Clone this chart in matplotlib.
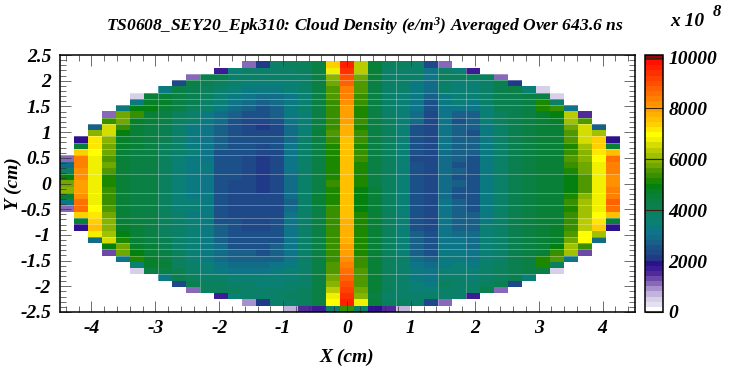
import numpy as np
import matplotlib
matplotlib.use('Agg')
import matplotlib.pyplot as plt
from matplotlib.colors import ListedColormap, BoundaryNorm
from matplotlib.ticker import MultipleLocator

plt.rcParams['font.family'] = ['Liberation Serif', 'DejaVu Serif']
plt.rcParams['font.weight'] = 'bold'
plt.rcParams['font.style'] = 'italic'
plt.rcParams['mathtext.fontset'] = 'custom'
plt.rcParams['mathtext.rm'] = 'Liberation Serif:italic:bold'
plt.rcParams['mathtext.it'] = 'Liberation Serif:italic:bold'

title = 'TS0608_SEY20_Epk310: Cloud Density (e/m$^{\\mathrm{3}}$) Averaged Over 643.6 ns'
x_label = 'X (cm)'
y_label = 'Y (cm)'
x_ticks = [-4, -3, -2, -1, 0, 1, 2, 3, 4]
y_ticks = [-2.5, -2, -1.5, -1, -0.5, 0, 0.5, 1, 1.5, 2, 2.5]
y_tick_labels = ['-2.5', '-2', '-1.5', '-1', '-0.5', '0', '0.5', '1', '1.5', '2', '2.5']
bar_ticks = [0, 2000, 4000, 6000, 8000, 10000]
bar_max = 10100

# 41 x 41 bins over the plot, top row and last column are empty
x_edges = np.linspace(-4.5, 4.5, 42)
y_edges = np.linspace(-2.5, 2.5, 42)

# density in hundreds, rows go top to bottom, left half
left_half = [
    [0, 0, 0, 0, 0, 0, 0, 0, 0, 0, 0, 0, 0, 11, 22, 38, 39, 39, 44, 73],
    [0, 0, 0, 0, 0, 0, 0, 0, 0, 0, 0, 18, 36, 37, 37, 38, 38, 39, 44, 68],
    [0, 0, 0, 0, 0, 0, 0, 0, 0, 11, 41, 41, 38, 37, 37, 37, 37, 38, 43, 60],
    [0, 0, 0, 0, 0, 0, 0, 0, 23, 43, 42, 40, 37, 36, 35, 35, 36, 38, 43, 57],
    [0, 0, 0, 0, 0, 0, 0, 33, 44, 42, 40, 37, 35, 33, 33, 33, 35, 37, 43, 56],
    [0, 0, 0, 0, 0, 5, 45, 45, 44, 41, 39, 36, 33, 31, 30, 30, 32, 35, 43, 55],
    [0, 0, 0, 0, 0, 34, 48, 47, 44, 41, 38, 35, 32, 29, 28, 29, 33, 36, 43, 53],
    [0, 0, 0, 0, 33, 49, 50, 45, 43, 39, 37, 33, 29, 27, 26, 28, 33, 37, 44, 53],
    [0, 0, 0, 12, 57, 54, 46, 43, 40, 37, 34, 30, 27, 25, 25, 27, 33, 36, 44, 53],
    [0, 0, 0, 53, 58, 47, 46, 44, 40, 37, 34, 29, 26, 24, 24, 26, 31, 36, 44, 54],
    [0, 0, 28, 65, 53, 46, 44, 41, 37, 34, 32, 28, 25, 24, 22, 24, 29, 36, 44, 53],
    [0, 0, 59, 65, 50, 45, 44, 41, 37, 34, 32, 27, 25, 24, 24, 24, 29, 36, 45, 55],
    [0, 19, 72, 59, 47, 46, 44, 41, 37, 34, 32, 27, 26, 25, 25, 25, 30, 37, 44, 54],
    [0, 45, 72, 58, 47, 45, 44, 40, 37, 34, 32, 27, 26, 25, 24, 25, 31, 37, 44, 52],
    [0, 74, 70, 57, 46, 44, 44, 40, 37, 35, 31, 26, 26, 25, 23, 24, 31, 38, 44, 52],
    [11, 83, 68, 56, 46, 44, 43, 40, 36, 34, 32, 26, 26, 24, 22, 24, 31, 38, 44, 52],
    [30, 83, 68, 57, 45, 44, 43, 40, 36, 34, 33, 26, 26, 24, 22, 23, 31, 38, 44, 52],
    [37, 82, 68, 55, 45, 44, 43, 40, 36, 34, 33, 26, 25, 24, 22, 23, 31, 38, 44, 51],
    [50, 81, 68, 52, 45, 44, 43, 40, 36, 34, 32, 25, 25, 24, 22, 23, 30, 38, 44, 51],
    [58, 80, 67, 52, 45, 44, 43, 40, 36, 34, 32, 25, 24, 23, 22, 23, 29, 37, 44, 53],
    [59, 80, 68, 53, 45, 44, 43, 40, 36, 34, 32, 25, 24, 23, 22, 23, 29, 37, 44, 52],
    [46, 82, 68, 54, 45, 44, 43, 40, 36, 34, 33, 25, 24, 23, 23, 23, 29, 37, 45, 51],
    [33, 85, 68, 53, 45, 44, 43, 40, 36, 35, 33, 25, 24, 23, 23, 23, 28, 38, 45, 52],
    [12, 85, 69, 55, 45, 44, 43, 40, 36, 35, 33, 25, 24, 23, 23, 24, 30, 38, 44, 53],
    [0, 74, 71, 57, 45, 44, 43, 40, 37, 34, 33, 26, 24, 23, 23, 24, 31, 38, 44, 53],
    [0, 46, 73, 59, 46, 44, 43, 40, 37, 35, 33, 26, 25, 24, 23, 25, 31, 38, 44, 53],
    [0, 19, 76, 60, 47, 45, 44, 40, 37, 35, 33, 27, 25, 24, 24, 25, 31, 38, 44, 53],
    [0, 0, 68, 61, 49, 45, 44, 40, 37, 35, 33, 28, 25, 25, 25, 26, 31, 38, 44, 54],
    [0, 0, 29, 65, 52, 46, 44, 41, 38, 35, 33, 28, 26, 25, 25, 26, 31, 37, 44, 54],
    [0, 0, 0, 50, 57, 47, 45, 42, 38, 35, 33, 29, 26, 26, 26, 27, 31, 37, 44, 53],
    [0, 0, 0, 13, 58, 50, 46, 43, 39, 36, 33, 29, 27, 27, 26, 27, 31, 37, 44, 53],
    [0, 0, 0, 0, 32, 51, 48, 43, 39, 36, 34, 30, 28, 28, 28, 28, 32, 37, 44, 54],
    [0, 0, 0, 0, 0, 36, 47, 45, 40, 37, 35, 32, 30, 30, 29, 31, 33, 37, 44, 55],
    [0, 0, 0, 0, 0, 5, 43, 43, 41, 38, 36, 34, 32, 32, 32, 33, 35, 37, 43, 56],
    [0, 0, 0, 0, 0, 0, 0, 34, 42, 40, 38, 37, 35, 35, 35, 35, 36, 38, 43, 58],
    [0, 0, 0, 0, 0, 0, 0, 0, 23, 42, 40, 39, 37, 37, 36, 36, 37, 38, 43, 60],
    [0, 0, 0, 0, 0, 0, 0, 0, 0, 11, 40, 40, 39, 38, 38, 38, 38, 39, 43, 63],
    [0, 0, 0, 0, 0, 0, 0, 0, 0, 0, 0, 17, 36, 37, 38, 38, 39, 40, 43, 68],
    [0, 0, 0, 0, 0, 0, 0, 0, 0, 0, 0, 0, 0, 10, 21, 37, 38, 39, 44, 70],
    [0, 0, 0, 0, 0, 0, 0, 0, 0, 0, 0, 0, 0, 0, 0, 0, 7, 15, 17, 37],
]

# right half, same rows
right_half = [
    [96, 64, 46, 40, 40, 38, 23, 11, 0, 0, 0, 0, 0, 0, 0, 0, 0, 0, 0, 0],
    [93, 63, 45, 38, 38, 37, 32, 38, 36, 17, 0, 0, 0, 0, 0, 0, 0, 0, 0, 0],
    [90, 58, 45, 38, 38, 37, 32, 40, 39, 39, 39, 11, 0, 0, 0, 0, 0, 0, 0, 0],
    [87, 56, 44, 38, 38, 34, 30, 38, 36, 36, 38, 41, 22, 0, 0, 0, 0, 0, 0, 0],
    [84, 55, 44, 38, 37, 33, 30, 37, 36, 36, 38, 41, 43, 36, 6, 0, 0, 0, 0, 0],
    [83, 54, 44, 38, 36, 33, 27, 34, 35, 35, 38, 41, 42, 43, 44, 5, 0, 0, 0, 0],
    [81, 53, 44, 38, 35, 32, 26, 33, 35, 34, 37, 41, 42, 43, 52, 38, 0, 0, 0, 0],
    [80, 52, 44, 38, 35, 32, 25, 32, 31, 31, 36, 41, 42, 44, 51, 53, 32, 0, 0, 0],
    [80, 52, 44, 38, 35, 30, 24, 32, 27, 28, 36, 40, 42, 43, 47, 50, 63, 15, 0, 0],
    [79, 53, 44, 39, 35, 30, 24, 31, 26, 27, 35, 39, 41, 44, 45, 48, 62, 56, 0, 0],
    [78, 52, 44, 39, 35, 26, 23, 31, 27, 27, 34, 38, 41, 44, 45, 46, 57, 66, 28, 0],
    [77, 54, 44, 39, 35, 25, 24, 31, 27, 26, 34, 38, 41, 44, 45, 46, 56, 65, 61, 0],
    [76, 53, 44, 39, 35, 25, 24, 31, 28, 27, 34, 38, 41, 44, 45, 45, 55, 65, 74, 19],
    [76, 51, 44, 39, 35, 25, 24, 31, 27, 27, 33, 38, 41, 44, 45, 45, 52, 62, 73, 45],
    [76, 54, 44, 39, 35, 25, 24, 30, 28, 27, 33, 38, 41, 44, 45, 45, 54, 60, 71, 76],
    [76, 54, 43, 39, 35, 24, 23, 30, 27, 26, 33, 37, 41, 44, 45, 45, 56, 60, 69, 85],
    [76, 52, 44, 39, 35, 25, 23, 30, 26, 26, 33, 37, 41, 44, 46, 45, 53, 58, 68, 84],
    [76, 52, 44, 39, 35, 26, 23, 30, 27, 25, 33, 37, 41, 44, 46, 45, 52, 58, 68, 83],
    [75, 52, 44, 39, 35, 25, 23, 30, 26, 25, 33, 37, 41, 44, 46, 45, 50, 56, 67, 82],
    [76, 52, 44, 39, 35, 25, 23, 30, 27, 26, 33, 37, 41, 44, 46, 45, 50, 56, 67, 82],
    [76, 50, 45, 39, 35, 25, 23, 30, 26, 26, 33, 37, 41, 44, 46, 45, 50, 56, 67, 83],
    [76, 50, 45, 39, 35, 25, 23, 30, 26, 25, 33, 37, 41, 44, 46, 45, 52, 60, 68, 83],
    [76, 50, 45, 39, 35, 25, 23, 31, 27, 26, 34, 38, 41, 44, 46, 45, 53, 62, 68, 87],
    [76, 50, 45, 39, 35, 25, 24, 31, 27, 26, 34, 38, 41, 44, 46, 45, 52, 62, 67, 86],
    [76, 51, 45, 39, 35, 25, 24, 31, 28, 27, 34, 38, 41, 44, 46, 46, 53, 62, 70, 76],
    [77, 51, 45, 39, 36, 26, 24, 31, 28, 27, 34, 38, 41, 44, 46, 46, 54, 63, 72, 45],
    [77, 51, 45, 39, 36, 26, 24, 32, 28, 27, 35, 38, 41, 44, 46, 47, 54, 64, 74, 19],
    [78, 52, 45, 39, 36, 27, 25, 32, 30, 29, 35, 38, 41, 44, 46, 47, 56, 69, 62, 0],
    [78, 52, 45, 39, 36, 27, 25, 32, 31, 30, 35, 38, 41, 44, 46, 47, 57, 69, 29, 0],
    [79, 52, 45, 39, 36, 28, 26, 32, 32, 30, 35, 38, 41, 44, 45, 50, 62, 54, 0, 0],
    [80, 52, 45, 39, 36, 28, 26, 33, 33, 32, 35, 38, 41, 44, 45, 53, 62, 14, 0, 0],
    [81, 53, 45, 39, 37, 30, 27, 33, 34, 32, 36, 38, 41, 44, 52, 55, 31, 0, 0, 0],
    [83, 54, 45, 39, 38, 32, 30, 34, 35, 34, 37, 39, 41, 44, 52, 39, 0, 0, 0, 0],
    [85, 55, 45, 39, 38, 33, 31, 36, 36, 36, 37, 39, 41, 43, 44, 5, 0, 0, 0, 0],
    [87, 56, 45, 39, 38, 34, 32, 37, 37, 36, 38, 39, 42, 35, 0, 0, 0, 0, 0, 0],
    [89, 56, 45, 39, 38, 35, 34, 39, 38, 38, 39, 42, 23, 0, 0, 0, 0, 0, 0, 0],
    [91, 57, 45, 39, 38, 36, 35, 38, 38, 38, 41, 12, 0, 0, 0, 0, 0, 0, 0, 0],
    [93, 60, 44, 38, 38, 37, 37, 38, 38, 17, 0, 0, 0, 0, 0, 0, 0, 0, 0, 0],
    [96, 68, 46, 39, 39, 38, 23, 11, 0, 0, 0, 0, 0, 0, 0, 0, 0, 0, 0, 0],
    [53, 37, 19, 15, 8, 0, 0, 0, 0, 0, 0, 0, 0, 0, 0, 0, 0, 0, 0, 0],
]

# palette of the colour bar, 50 levels from the bottom up
palette = ['#ffffff', '#e4e0f0', '#d8d0e8', '#c0b4dc', '#a890cc', '#8868b8', '#6c48a8',
           '#4f2a98', '#3c1c94', '#2c108c', '#203a88', '#1e4888', '#1c5088', '#186088',
           '#126c88', '#0e7488', '#0a7a80', '#0a7f74', '#0a8068', '#0a805c', '#0a8050',
           '#0a8044', '#088038', '#06802a', '#048010', '#1c8800', '#389000', '#509800',
           '#70a800', '#88b400', '#a0c000', '#b8cc00', '#d4dc00', '#f0f000', '#ffff00',
           '#ffe800', '#ffd000', '#ffc000', '#ffb000', '#ffa000', '#ff9000', '#ff8000',
           '#ff7000', '#ff6000', '#ff5000', '#ff4000', '#ff3000', '#ff2000', '#ff1000',
           '#a00010']

# bin boundaries that show as pale seams in the original image
seam_rows = [2, 3, 5, 6, 7, 9, 10, 12, 13, 14, 15, 18, 21, 23, 25, 26, 28, 29, 30, 31, 34]
seam_cols = [7, 10, 24, 27, 29]

density = np.hstack([np.array(left_half), np.array(right_half)]) * 100.0
filled = density > 0

# add the empty last column and empty top row, flip so row 0 is at the bottom
grid = np.hstack([density, np.zeros((density.shape[0], 1))])
grid = np.vstack([np.zeros((1, grid.shape[1])), grid])[::-1]

W, H = 731, 380
fig = plt.figure(figsize=(W / 100, H / 100), dpi=100, facecolor='white')
ax = fig.add_axes([59.5 / W, (H - 312) / H, 575 / W, 257 / H])
cax = fig.add_axes([645 / W, (H - 312) / H, 18 / W, 257 / H])

levels = np.linspace(0, bar_max, len(palette) + 1)
cmap = ListedColormap(palette)
norm = BoundaryNorm(levels, cmap.N)
mesh = ax.pcolormesh(x_edges, y_edges, grid, cmap=cmap, norm=norm, antialiased=False)

# seams run only over the filled bins
for k in seam_rows:
    cols = np.where(filled[k])[0]
    y_seam = y_edges[40 - k]
    ax.plot([x_edges[cols[0]], x_edges[cols[-1] + 1]], [y_seam, y_seam],
            color='white', lw=0.7, alpha=0.3)
for c in seam_cols:
    rows = np.where(filled[:, c])[0]
    ax.plot([x_edges[c], x_edges[c]], [y_edges[40 - rows[-1] - 1], y_edges[40 - rows[0]]],
            color='white', lw=0.7, alpha=0.3)

ax.set_xlim(-4.5, 4.5)
ax.set_ylim(-2.5, 2.5)
ax.set_xticks(x_ticks)
ax.set_xticklabels([str(v) for v in x_ticks])
ax.set_yticks(y_ticks)
ax.set_yticklabels(y_tick_labels)
ax.xaxis.set_minor_locator(MultipleLocator(0.2))
ax.yaxis.set_minor_locator(MultipleLocator(0.1))
ax.tick_params(which='major', direction='in', length=8, width=0.5, top=True, right=True,
               color='#333333', labelsize=14)
ax.tick_params(which='minor', direction='in', length=4, width=0.5, top=True, right=True,
               color='#333333')
ax.tick_params(axis='x', which='major', pad=6)
ax.tick_params(axis='y', which='major', pad=6)
for s in ax.spines.values():
    s.set_linewidth(1.1)

cb = fig.colorbar(mesh, cax=cax, ticks=bar_ticks, spacing='proportional')
cb.ax.minorticks_off()
cb.ax.tick_params(direction='in', length=13, width=0.8, color='#402010', labelsize=14, pad=4)
cb.ax.set_yticklabels([str(v) for v in bar_ticks])
cb.outline.set_linewidth(1.1)

fig.text(365 / W, 1 - 26 / H, title, ha='center', va='center', fontsize=12.6)
fig.text(347 / W, 1 - 357 / H, x_label, ha='center', va='center', fontsize=14)
fig.text(13 / W, 1 - 184 / H, y_label, ha='center', va='center', rotation=90, fontsize=14)
fig.text(670 / W, 1 - 22 / H, 'x 10', ha='left', va='center', fontsize=14)
fig.text(713 / W, 1 - 12 / H, '8', ha='left', va='center', fontsize=12)

fig.savefig('out.png', dpi=100)
